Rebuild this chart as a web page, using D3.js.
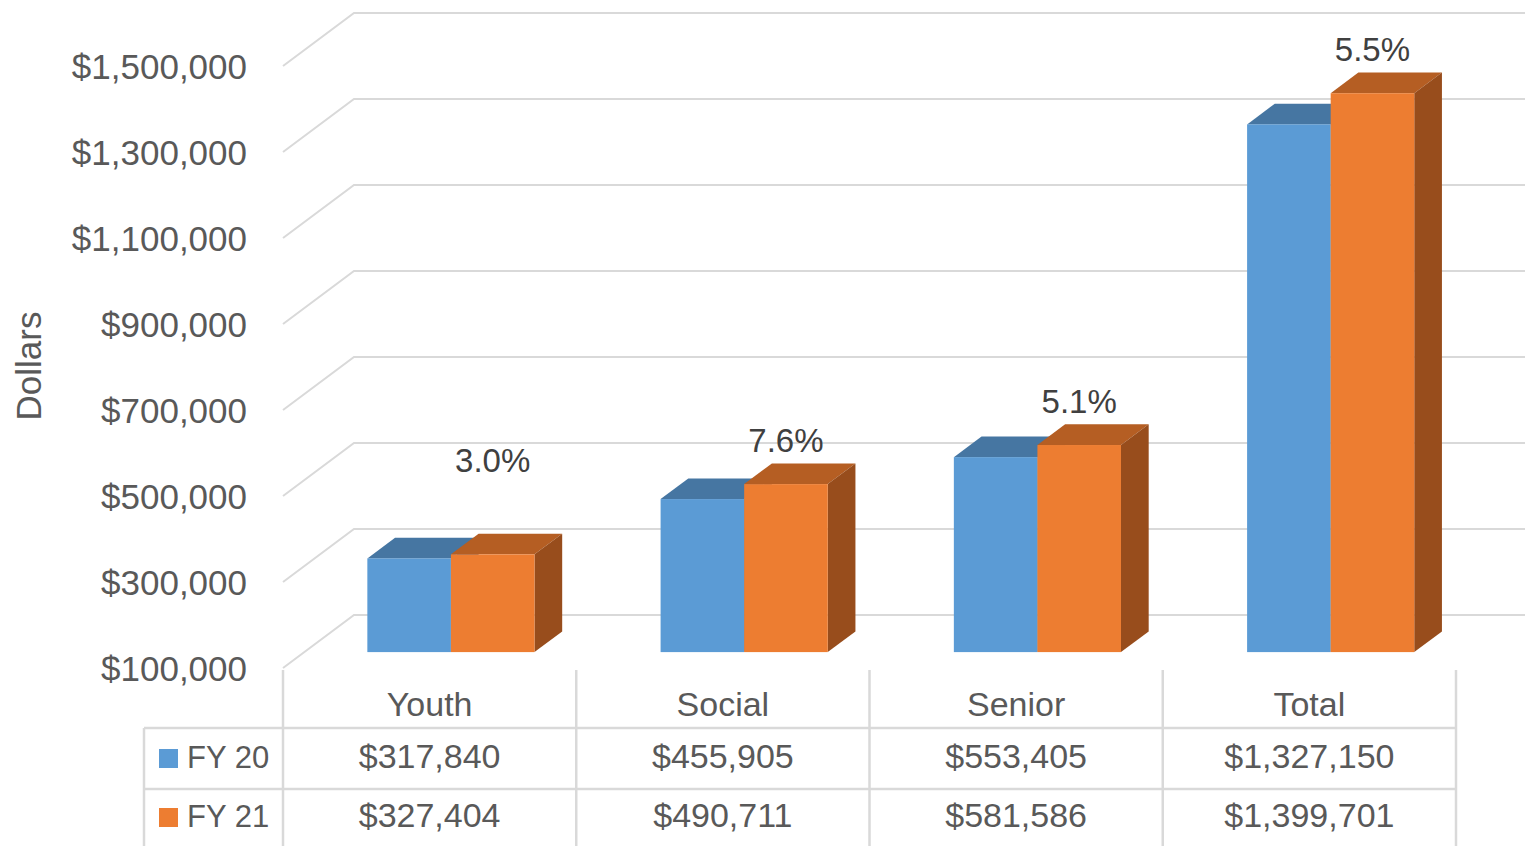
<!DOCTYPE html>
<html>
<head>
<meta charset="utf-8">
<script src="https://cdn.jsdelivr.net/npm/d3@7"></script>
<style>
  body { margin: 0; background: #fff; }
  text { font-family: "Liberation Sans", Arial, sans-serif; }
</style>
</head>
<body>
<div id="chart"></div>
<script>
const categories = ["Youth", "Social", "Senior", "Total"];
const seriesNames = ["FY 20", "FY 21"];
const fy20 = [317840, 455905, 553405, 1327150];
const fy21 = [327404, 490711, 581586, 1399701];
const pctChange = ["3.0%", "7.6%", "5.1%", "5.5%"];
const yTicks = [100000, 300000, 500000, 700000, 900000, 1100000, 1300000, 1500000];

const width = 1525, height = 846;
const colors = [
  {front: "#5b9bd5", top: "#4676a2", side: "#41719c"},
  {front: "#ed7d31", top: "#b55e23", side: "#984d1c"}
];
const gridColor = "#d9d9d9";
const textColor = "#595959";

// oblique depth of the 3d box (front plane -> back wall)
const depth = {dx: 71, dy: -53};
const barZ = [0.3, 0.69];

const x = d3.scaleBand().domain(categories).range([283, 1456]).paddingInner(0);
const y = d3.scaleLinear().domain([100000, 1500000]).range([668, 66]);

// project a point (px, value, z) to screen
function proj(px, v, z) {
  return [px + z * depth.dx, y(v) + z * depth.dy];
}

const svg = d3.select("#chart").append("svg")
  .attr("width", width)
  .attr("height", height);

svg.append("rect").attr("width", width).attr("height", height).attr("fill", "#fff");

const g = svg.append("g");

// back wall grid + side wall diagonals
yTicks.forEach(v => {
  const a = proj(x.range()[0], v, 0);
  const b = proj(x.range()[0], v, 1);
  const c = proj(x.range()[1], v, 1);
  g.append("path")
    .attr("d", `M${a[0]},${a[1]} L${b[0]},${b[1]} L${c[0]},${c[1]}`)
    .attr("fill", "none")
    .attr("stroke", gridColor)
    .attr("stroke-width", 2);
});

// y axis labels
const fmt = d3.format("$,");
g.selectAll(".ylab").data(yTicks).enter().append("text")
  .attr("class", "ylab")
  .attr("x", 247)
  .attr("y", d => y(d) + 4)
  .attr("text-anchor", "end")
  .attr("dominant-baseline", "middle")
  .attr("font-size", 35)
  .attr("fill", textColor)
  .text(d => fmt(d));

// axis title
g.append("text")
  .attr("transform", `translate(32,366) rotate(-90)`)
  .attr("text-anchor", "middle")
  .attr("dominant-baseline", "middle")
  .attr("font-size", 35)
  .attr("fill", textColor)
  .text("Dollars");

// bars
const groupFrac = 0.57;
const barW = x.bandwidth() * groupFrac / 2;
const series = [fy20, fy21];

function poly(pts) {
  return "M" + pts.map(p => p.join(",")).join("L") + "Z";
}

categories.forEach((cat, i) => {
  const left = x(cat) + (x.bandwidth() - 2 * barW) / 2;
  series.forEach((vals, s) => {
    const x0 = left + s * barW, x1 = x0 + barW;
    const v = vals[i], base = y.domain()[0];
    const col = colors[s];
    const bg = g.append("g").attr("class", "bar");
    // top face
    bg.append("path")
      .attr("d", poly([proj(x0, v, barZ[0]), proj(x1, v, barZ[0]), proj(x1, v, barZ[1]), proj(x0, v, barZ[1])]))
      .attr("fill", col.top);
    // right side face
    bg.append("path")
      .attr("d", poly([proj(x1, base, barZ[0]), proj(x1, v, barZ[0]), proj(x1, v, barZ[1]), proj(x1, base, barZ[1])]))
      .attr("fill", col.side);
    // front face
    const p0 = proj(x0, v, barZ[0]), p1 = proj(x1, base, barZ[0]);
    bg.append("rect")
      .attr("x", p0[0]).attr("y", p0[1])
      .attr("width", p1[0] - p0[0]).attr("height", p1[1] - p0[1])
      .attr("fill", col.front);
  });
  // percent change label above FY 21 bar
  const lx = left + barW * 1.5;
  const top = proj(lx, fy21[i], barZ[0]);
  const nudge = cat === "Youth" ? 50 : 0; // moved up by hand in the original
  g.append("text")
    .attr("x", top[0])
    .attr("y", top[1] - 41 - nudge)
    .attr("text-anchor", "middle")
    .attr("dominant-baseline", "middle")
    .attr("font-size", 33)
    .attr("fill", "#404040")
    .text(pctChange[i]);
});

// data table
const tableLeft = 144;
const rowY = [670, 728, 789, 846];
const tg = g.append("g").attr("class", "table");

// vertical lines
x.domain().forEach(c => {
  tg.append("line")
    .attr("x1", x(c)).attr("x2", x(c))
    .attr("y1", rowY[0]).attr("y2", height)
    .attr("stroke", gridColor).attr("stroke-width", 2.5);
});
tg.append("line")
  .attr("x1", x.range()[1]).attr("x2", x.range()[1])
  .attr("y1", rowY[0]).attr("y2", height)
  .attr("stroke", gridColor).attr("stroke-width", 2.5);
tg.append("line")
  .attr("x1", tableLeft).attr("x2", tableLeft)
  .attr("y1", rowY[1]).attr("y2", height)
  .attr("stroke", gridColor).attr("stroke-width", 2.5);
// horizontal lines
[rowY[1], rowY[2]].forEach(yy => {
  tg.append("line")
    .attr("x1", tableLeft).attr("x2", x.range()[1])
    .attr("y1", yy).attr("y2", yy)
    .attr("stroke", gridColor).attr("stroke-width", 2.5);
});

// header
categories.forEach(c => {
  tg.append("text")
    .attr("x", x(c) + x.bandwidth() / 2)
    .attr("y", (rowY[0] + rowY[1]) / 2 + 8)
    .attr("text-anchor", "middle")
    .attr("dominant-baseline", "middle")
    .attr("font-size", 34)
    .attr("fill", textColor)
    .text(c);
});

// rows
series.forEach((vals, s) => {
  const cy = (rowY[s + 1] + rowY[s + 2]) / 2;
  tg.append("rect")
    .attr("x", 159).attr("y", cy - 9.5)
    .attr("width", 19).attr("height", 19)
    .attr("fill", colors[s].front);
  tg.append("text")
    .attr("x", 187).attr("y", cy + 1)
    .attr("dominant-baseline", "middle")
    .attr("font-size", 31)
    .attr("fill", textColor)
    .text(seriesNames[s]);
  categories.forEach((c, i) => {
    tg.append("text")
      .attr("x", x(c) + x.bandwidth() / 2)
      .attr("y", cy + 1)
      .attr("text-anchor", "middle")
      .attr("dominant-baseline", "middle")
      .attr("font-size", 34)
      .attr("fill", textColor)
      .text(fmt(vals[i]));
  });
});
</script>
</body>
</html>
